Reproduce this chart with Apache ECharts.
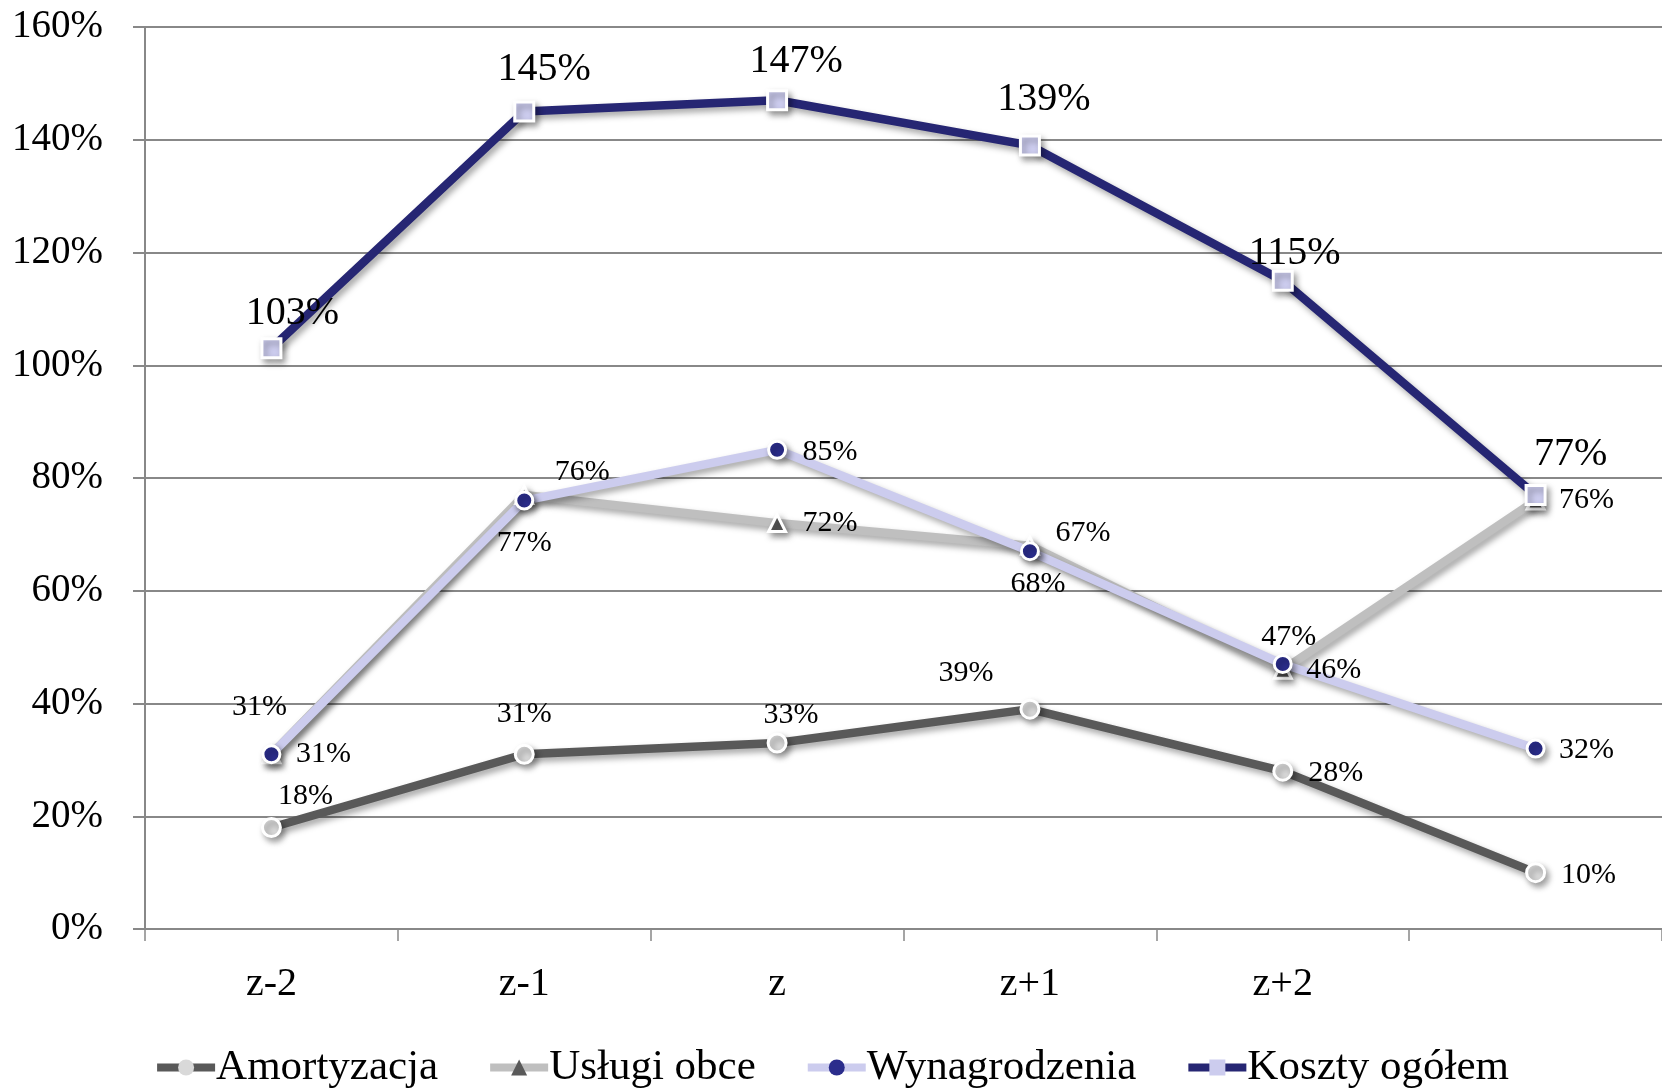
<!DOCTYPE html>
<html>
<head>
<meta charset="utf-8">
<script src="https://cdn.jsdelivr.net/npm/echarts@6/dist/echarts.min.js"></script>
<style>
html,body{margin:0;padding:0;background:#fff;}
#chart{width:1662px;height:1090px;}
</style>
</head>
<body>
<div id="chart"></div>
<script>
const categories = ['z-2', 'z-1', 'z', 'z+1', 'z+2', ''];
const yTicks = [0, 20, 40, 60, 80, 100, 120, 140, 160];
const amortyzacja = [18, 31, 33, 39, 28, 10];
const uslugiObce = [31, 77, 72, 68, 46, 76];
const wynagrodzenia = [31, 76, 85, 67, 47, 32];
const kosztyOgolem = [103, 145, 147, 139, 115, 77];
const seriesNames = ['Amortyzacja', 'Usługi obce', 'Wynagrodzenia', 'Koszty ogółem'];

// label offsets (px) relative to each point – styling only
const offAm = [[34,-31],[0,-40],[14,-28],[-64,-36],[53,2],[53,2]];
const offUs = [[52,0],[0,48],[53,0],[8,38],[51,0],[51,0]];
const offWy = [[-12,-47],[58,-28],[53,2],[53,-18],[6,-27],[51,2]];
const offKo = [[21,-35],[20,-42],[19,-39],[14,-46],[12,-27],[35,-40]];

const FONT = "'Liberation Serif','Times New Roman',serif";
const shadow = {shadowColor:'rgba(0,0,0,0.35)', shadowBlur:6, shadowOffsetX:3, shadowOffsetY:4};

function items(values, offs, fontSize) {
  return values.map((v, i) => ({
    value: v,
    label: {
      show: true, position: 'inside', offset: offs[i],
      align: 'center', verticalAlign: 'middle',
      formatter: '{c}%', color: '#000', fontFamily: FONT, fontSize: fontSize,
      textBorderWidth: 0
    }
  }));
}

function mkSeries(name, values, offs, lineColor, markColor, symbol, size, fontSize) {
  return {
    name: name, type: 'line', data: items(values, offs, fontSize),
    symbol: symbol, symbolSize: size,
    lineStyle: Object.assign({color: lineColor, width: 8.5}, shadow),
    itemStyle: Object.assign({color: markColor, borderColor: '#fff', borderWidth: 3}, shadow),
    emphasis: {disabled: true},
    animation: false
  };
}

const chart = echarts.init(document.getElementById('chart'));
chart.setOption({
  backgroundColor: '#fff',
  animation: false,
  grid: {left: 145, top: 27, width: 1526, height: 902},
  xAxis: {
    type: 'category', data: categories, boundaryGap: true,
    axisLine: {lineStyle: {color: '#888', width: 2}},
    axisTick: {show: true, length: 12, interval: 0, lineStyle: {color: '#888', width: 1.5}},
    axisLabel: {color: '#000', fontFamily: FONT, fontSize: 40, margin: 35, interval: 0}
  },
  yAxis: {
    type: 'value', min: yTicks[0], max: yTicks[yTicks.length-1], interval: 20,
    axisLine: {show: true, lineStyle: {color: '#888', width: 2}},
    axisTick: {show: true, length: 12, lineStyle: {color: '#888', width: 2}},
    splitLine: {show: true, lineStyle: {color: '#888', width: 2}},
    axisLabel: {color: '#000', fontFamily: FONT, fontSize: 39, margin: 42, formatter: '{value}%'}
  },
  legend: {
    data: seriesNames, bottom: -4, left: 'center',
    itemWidth: 58, itemHeight: 20, itemGap: 48,
    lineStyle: {width: 8, shadowBlur: 0, shadowOffsetX: 0, shadowOffsetY: 0},
    itemStyle: {borderWidth: 0, shadowBlur: 0, shadowOffsetX: 0, shadowOffsetY: 0},
    textStyle: {color: '#000', fontFamily: FONT, fontSize: 43, padding: [0,0,0,-4]}
  },
  series: [
    mkSeries(seriesNames[0], amortyzacja, offAm, '#595959', '#d9d9d9', 'circle', 18, 30),
    mkSeries(seriesNames[1], uslugiObce, offUs, '#bfbfbf', '#595959', 'triangle', 17, 30),
    mkSeries(seriesNames[2], wynagrodzenia, offWy, '#ccccee', '#2b2d8c', 'circle', 17, 30),
    mkSeries(seriesNames[3], kosztyOgolem, offKo, '#262673', '#ccccee', 'rect', 19, 40)
  ]
});
</script>
</body>
</html>
